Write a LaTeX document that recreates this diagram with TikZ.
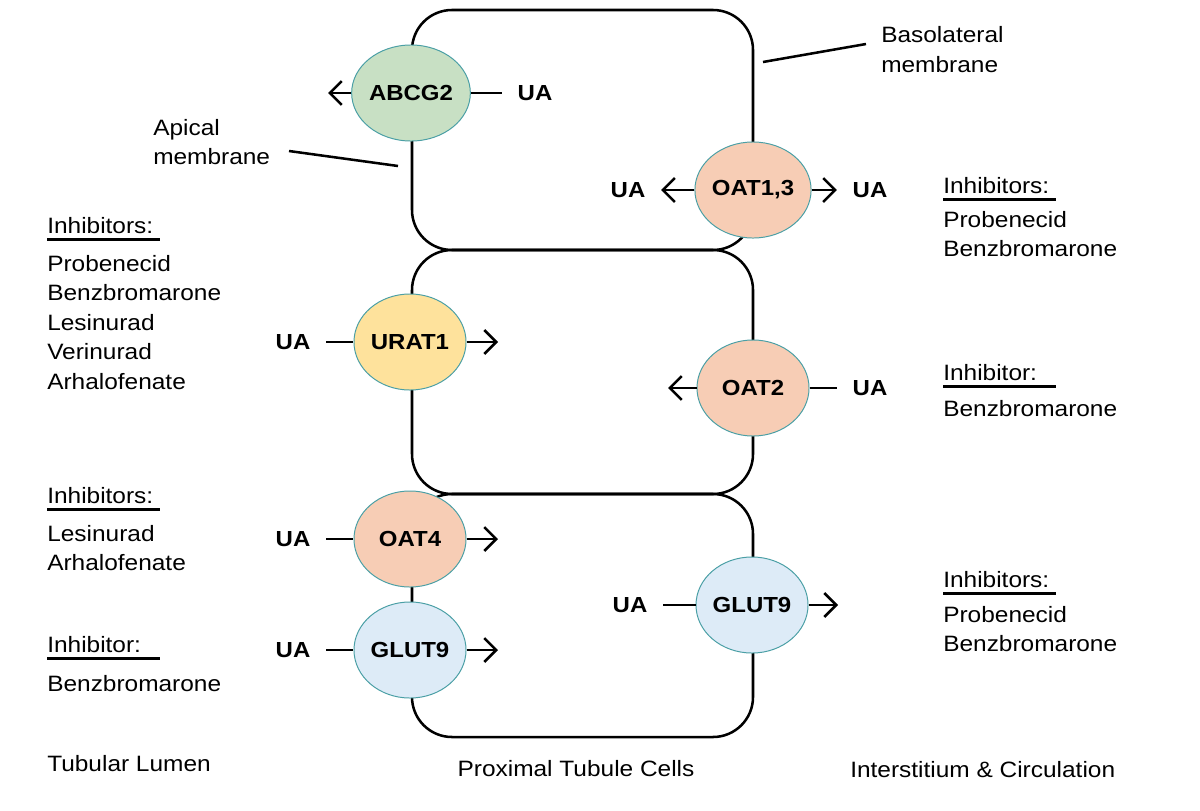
\documentclass[tikz,border=0pt]{standalone}
\usepackage{fontspec}
\setmainfont[FakeStretch=1.1]{Liberation Sans}
\usetikzlibrary{shapes.geometric,arrows.meta}

\definecolor{abcgreen}{HTML}{C8E0C4}
\definecolor{oatpeach}{HTML}{F7CDB5}
\definecolor{uratyellow}{HTML}{FEE29C}
\definecolor{glutblue}{HTML}{DDEBF7}
\definecolor{rim}{HTML}{4A9FA5}

\tikzset{
  cell/.style={line width=1.8pt, rounded corners=1cm},
  transporter/.style={ellipse, draw=rim, line width=0.7pt, minimum width=2.8cm,
    minimum height=2.4cm, inner sep=0pt, font=\fontsize{15.5}{18}\selectfont\bfseries},
  ua/.style={font=\fontsize{15.5}{18}\selectfont\bfseries, inner xsep=11pt, inner ysep=0pt},
  flow/.style={line width=1.8pt, -{Straight Barb[length=8.5pt,width=17pt]}},
  link/.style={line width=1.8pt},
  txt/.style={font=\fontsize{15.8}{20.9}\selectfont, inner sep=0pt, anchor=base west},
  uline/.style={line width=2.1pt},
}

\begin{document}
\begin{tikzpicture}[x=0.025cm, y=-0.025cm]
\useasboundingbox (0,0) rectangle (1200,810);

% cells
\draw[cell] (412,10) rectangle (753,250);
\draw[cell] (412,250) rectangle (753,494);
\draw[cell] (412,494) rectangle (753,737);

% transporters
\node[transporter, fill=abcgreen] (abcg2) at (411,93) {ABCG2};
\node[transporter, fill=oatpeach] (oat13) at (753,190) {OAT1,3};
\node[transporter, fill=uratyellow] (urat1) at (410,342) {URAT1};
\node[transporter, fill=oatpeach] (oat2) at (753,388) {OAT2};
\node[transporter, fill=oatpeach] (oat4) at (410,539) {OAT4};
\node[transporter, fill=glutblue] (glut9l) at (410,650) {GLUT9};
\node[transporter, fill=glutblue] (glut9r) at (752,605) {GLUT9};

% uric acid
\node[ua] (uaA) at (535,93) {UA};
\node[ua] (uaB) at (628,190) {UA};
\node[ua] (uaC) at (870,190) {UA};
\node[ua] (uaD) at (293,342) {UA};
\node[ua] (uaE) at (870,388) {UA};
\node[ua] (uaF) at (293,539) {UA};
\node[ua] (uaG) at (293,650) {UA};
\node[ua] (uaH) at (630,605) {UA};

\coordinate (outA) at (328,93);
\coordinate (outD) at (498,342);
\coordinate (outE) at (668,388);
\coordinate (outF) at (498,539);
\coordinate (outG) at (498,650);
\coordinate (outH) at (838,605);

\draw[flow] (abcg2) -- (outA);
\draw[link] (abcg2) -- (uaA);
\draw[flow] (oat13) -- (uaB);
\draw[flow] (oat13) -- (uaC);
\draw[link] (uaD) -- (urat1);
\draw[flow] (urat1) -- (outD);
\draw[flow] (oat2) -- (outE);
\draw[link] (oat2) -- (uaE);
\draw[link] (uaF) -- (oat4);
\draw[flow] (oat4) -- (outF);
\draw[link] (uaG) -- (glut9l);
\draw[flow] (glut9l) -- (outG);
\draw[link] (uaH) -- (glut9r);
\draw[flow] (glut9r) -- (outH);

% membranes
\node[txt] (baso1) at (881,42) {Basolateral};
\node[txt] (baso2) at (881,72) {membrane};
\node[txt] (apic1) at (153,135) {Apical};
\node[txt] (apic2) at (153,164) {membrane};
\coordinate (basoA) at (866,44);
\coordinate (basoB) at (763,62);
\coordinate (apicA) at (289,151);
\coordinate (apicB) at (398,166);
\draw[link] (basoA) -- (basoB);
\draw[link] (apicA) -- (apicB);

% inhibitors, lumen side
\node[txt] (inhL1) at (47,233) {Inhibitors:};
\draw[uline] ([yshift=-4.3pt]inhL1.base west) -- ++(113,0);
\foreach \drug [count=\i] in {Probenecid,Benzbromarone,Lesinurad,Verinurad,Arhalofenate}
  \node[txt] (drugL1-\i) at (47,{271+29.5*(\i-1)}) {\drug};

\node[txt] (inhL2) at (47,503) {Inhibitors:};
\draw[uline] ([yshift=-4.3pt]inhL2.base west) -- ++(113,0);
\foreach \drug [count=\i] in {Lesinurad,Arhalofenate}
  \node[txt] (drugL2-\i) at (47,{541+29.5*(\i-1)}) {\drug};

\node[txt] (inhL3) at (47,652) {Inhibitor:};
\draw[uline] ([yshift=-4.3pt]inhL3.base west) -- ++(113,0);
\node[txt] (drugL3) at (47,691) {Benzbromarone};

% inhibitors, blood side
\node[txt] (inhR1) at (943,193) {Inhibitors:};
\draw[uline] ([yshift=-4.3pt]inhR1.base west) -- ++(113,0);
\foreach \drug [count=\i] in {Probenecid,Benzbromarone}
  \node[txt] (drugR1-\i) at (943,{227+29.5*(\i-1)}) {\drug};

\node[txt] (inhR2) at (943,380) {Inhibitor:};
\draw[uline] ([yshift=-4.3pt]inhR2.base west) -- ++(113,0);
\node[txt] (drugR2) at (943,416) {Benzbromarone};

\node[txt] (inhR3) at (943,587) {Inhibitors:};
\draw[uline] ([yshift=-4.3pt]inhR3.base west) -- ++(113,0);
\foreach \drug [count=\i] in {Probenecid,Benzbromarone}
  \node[txt] (drugR3-\i) at (943,{622+29.5*(\i-1)}) {\drug};

% compartments
\node[txt] (lumen) at (47,771) {Tubular Lumen};
\node[txt, anchor=base] (cells) at (576,776) {Proximal Tubule Cells};
\node[txt] (inter) at (850,777) {Interstitium \& Circulation};
\end{tikzpicture}
\end{document}
